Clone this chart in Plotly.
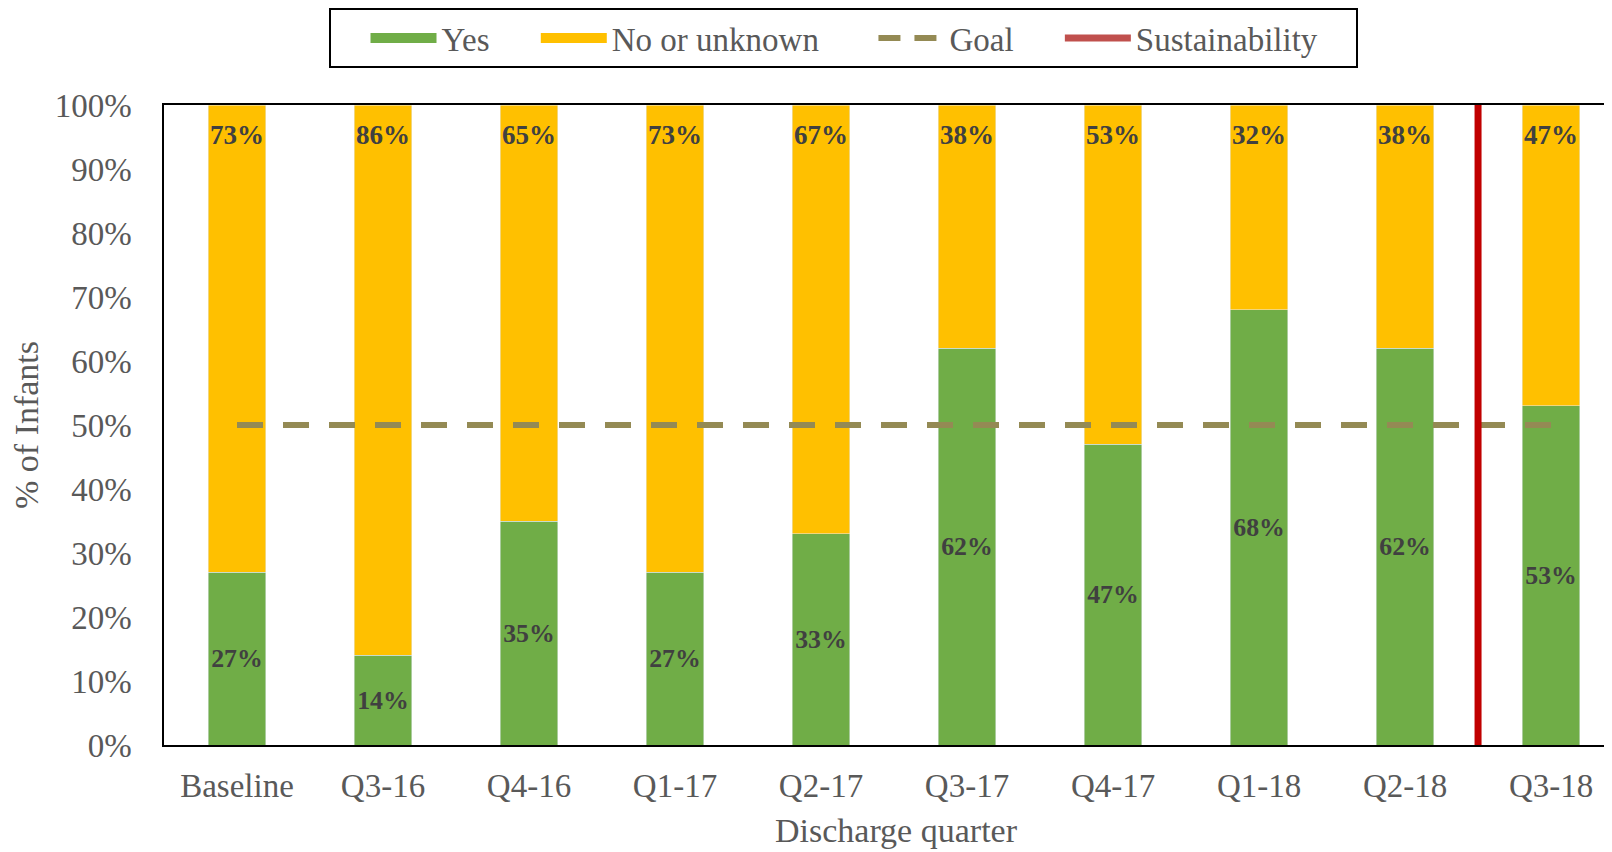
import plotly.graph_objects as go

# ── Data ───────────────────────────────────────────────────────────────────────

quarters = ["Baseline", "Q3-16", "Q4-16", "Q1-17", "Q2-17",
            "Q3-17", "Q4-17", "Q1-18", "Q2-18", "Q3-18"]
yes_pct  = [27, 14, 35, 27, 33, 62, 47, 68, 62, 53]
no_pct   = [73, 86, 65, 73, 67, 38, 53, 32, 38, 47]
goal_pct = 50
sustain_at = 8.5   # between Q2-18 and Q3-18

GREEN  = "#70AD47"
YELLOW = "#FFC000"
OLIVE  = "#948A54"
RED    = "#C00000"
GREY   = "#595959"
FONT   = "Liberation Serif"
NB     = "\u00a0"

label_font = dict(family=FONT, size=27, color="#404040", weight="bold")
tick_font  = dict(family=FONT, size=33, color=GREY)
title_font = dict(family=FONT, size=34, color=GREY)

# ── Figure ─────────────────────────────────────────────────────────────────────

fig = go.Figure()

fig.add_trace(go.Bar(
    x=quarters, y=yes_pct, name="Yes", marker_color=GREEN, showlegend=False,
    text=[f"{v}%" for v in yes_pct], textposition="inside",
    insidetextanchor="middle", textangle=0, textfont=label_font,
))
fig.add_trace(go.Bar(
    x=quarters, y=no_pct, name="No or unknown", marker_color=YELLOW, showlegend=False,
))
fig.add_trace(go.Scatter(
    x=[quarters[0], quarters[-1]], y=[goal_pct, goal_pct], showlegend=False,
    mode="lines", line=dict(color=OLIVE, width=6, dash="26px,20px"),
))
fig.add_shape(
    type="line", xref="x", yref="y", x0=sustain_at, x1=sustain_at, y0=0, y1=100,
    line=dict(color=RED, width=7),
)

# "No or unknown" labels sit near the top of each bar (Excel inside-end)
for q, y, n in zip(quarters, yes_pct, no_pct):
    fig.add_annotation(
        x=q, y=y + n, text=f"{n}%", showarrow=False,
        yanchor="middle", yshift=-30, font=label_font,
    )

# legend-only entries (wide swatches like the original)
legend_items = [
    ("Yes" + NB * 5, GREEN, 18, "solid"),
    ("No or unknown" + NB * 6, YELLOW, 18, "solid"),
    ("Goal" + NB * 5, OLIVE, 6, "22px,14px"),
    ("Sustainability" + NB * 4, "#C0504D", 7, "solid"),
]
for name, color, w, dash in legend_items:
    fig.add_trace(go.Scatter(
        x=[None], y=[None], mode="lines", name=name,
        line=dict(color=color, width=w, dash=dash),
    ))

fig.update_layout(
    width=1620, height=844,
    barmode="stack", bargap=0.605,
    plot_bgcolor="white", paper_bgcolor="white",
    margin=dict(l=156, r=0, t=97, b=107),
    font=dict(family=FONT, size=33, color=GREY),
    legend=dict(
        orientation="h", xref="container", yref="container",
        x=0.198, xanchor="left", y=1.0, yanchor="top",
        bordercolor="black", borderwidth=2, bgcolor="white",
        font=dict(family=FONT, size=33, color=GREY),
        traceorder="normal", itemwidth=66,
        title=dict(text=NB * 3, side="left", font=dict(family=FONT, size=33)),
    ),
    xaxis=dict(
        range=[-0.5, 9.527], showline=True, mirror=True, linecolor="black",
        linewidth=1.5, showgrid=False, ticks="outside", ticklen=11,
        tickcolor="rgba(0,0,0,0)", automargin=False, tickfont=tick_font,
        title=dict(text="Discharge quarter", standoff=15, font=title_font),
    ),
    yaxis=dict(
        range=[0, 100], dtick=10, ticksuffix="%", showline=True, mirror=True,
        linecolor="black", linewidth=1.5, showgrid=False, zeroline=False,
        ticks="", ticklabelstandoff=24, automargin=False, tickfont=tick_font,
        title=dict(text="% of Infants", standoff=6, font=title_font),
    ),
)

fig.write_html("out.html")
